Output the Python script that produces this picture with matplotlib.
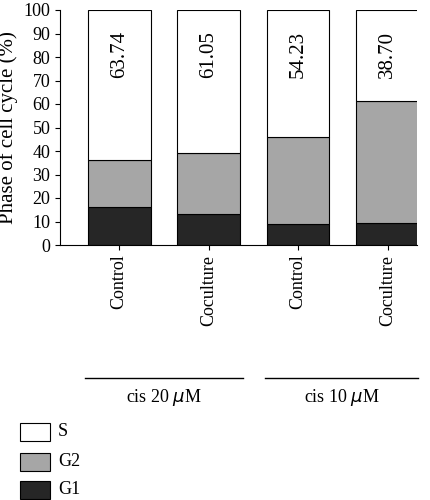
import matplotlib
matplotlib.use("Agg")
import matplotlib.pyplot as plt
from matplotlib.patches import Rectangle

plt.rcParams['font.family'] = ['Liberation Serif', 'DejaVu Serif']
categories = ["Control", "Coculture", "Control", "Coculture"]
groups = ["cis 20 $\\mu$M", "cis 10 $\\mu$M"]
g1 = [16.0, 13.2, 9.0, 9.5]
g2 = [20.26, 25.75, 36.77, 51.8]
s = [63.74, 61.05, 54.23, 38.70]

fig = plt.figure(figsize=(4.3, 5.0), dpi=100)
ax = fig.add_axes([0.14, 0.51, 0.83, 0.47])
x = list(range(len(categories)))
w = 0.7
ax.bar(x, g1, w, color="#262626", edgecolor="black", linewidth=0.8)
ax.bar(x, g2, w, bottom=g1, color="#a6a6a6", edgecolor="black", linewidth=0.8)
b2 = [a + b for a, b in zip(g1, g2)]
ax.bar(x, s, w, bottom=b2, color="white", edgecolor="black", linewidth=0.8)
for xi, v in zip(x, s):
    ax.text(xi, 81, f"{v:.2f}", rotation=90, ha="center", va="center", fontsize=15)
ax.set_xlim(-0.66, 3.33)
ax.set_ylim(0, 100)
ax.set_yticks(range(0, 101, 10))
ax.set_ylabel("Phase of cell cycle (%)", fontsize=15)
ax.set_xticks(x)
ax.set_xticklabels(categories, rotation=90, fontsize=13)
ax.spines['top'].set_visible(False)
ax.spines['right'].set_visible(False)
ax.tick_params(axis='y', labelsize=13)

fy = 1 - 378 / 500
for (x0, x1), lab in zip([(85, 243), (265, 418)], groups):
    fig.add_artist(plt.Line2D([x0 / 430, x1 / 430], [fy, fy], color="black", linewidth=1))
    fig.text((x0 + x1) / 2 / 430, 1 - 397 / 500, lab, ha="center", va="center", fontsize=13)

for lab, col, yc in [("S", "white", 432), ("G2", "#a6a6a6", 462), ("G1", "#262626", 490)]:
    fig.add_artist(Rectangle((20 / 430, 1 - (yc + 9) / 500), 30 / 430, 18 / 500,
                             facecolor=col, edgecolor="black", linewidth=0.8,
                             transform=fig.transFigure))
    fig.text(58 / 430, 1 - yc / 500, lab, ha="left", va="center", fontsize=13)

fig.savefig("out.png", dpi=100)
